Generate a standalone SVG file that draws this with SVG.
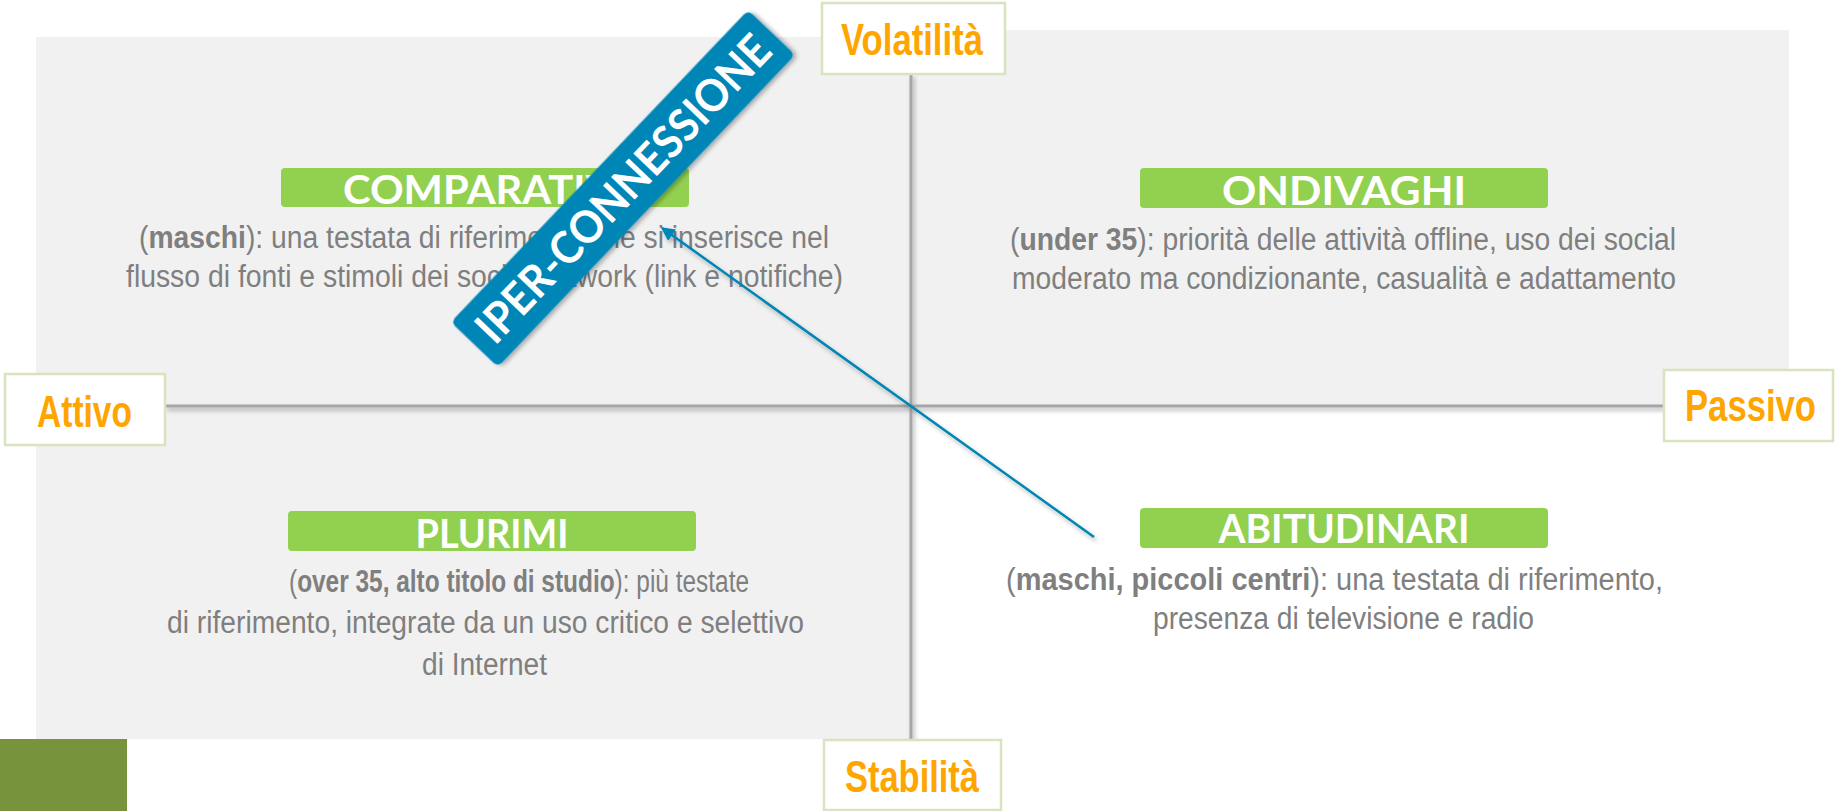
<svg xmlns="http://www.w3.org/2000/svg" width="1835" height="811" viewBox="0 0 1835 811">
<style>
.panel{fill:#f1f1f1}
.axis{stroke:#a6a6a6;stroke-width:3;fill:none}
.title{fill:#92d050}
.ttext{fill:#ffffff;font-family:"Lato","Noto Sans",sans-serif;font-weight:700;font-size:41px;text-anchor:middle}
.body{fill:#7f7f7f;font-family:"Liberation Sans Narrow","Liberation Sans",Arial,sans-serif;font-size:31px}
.body .b{font-weight:700}
.lbox{fill:#ffffff;stroke:#d7e4bd;stroke-width:2.5}
.ltext{fill:#ffa500;font-family:"Liberation Sans Narrow","Liberation Sans",Arial,sans-serif;font-weight:700;font-size:44px}
.banner{fill:#0086b6}
.btext{fill:#ffffff;font-family:"Lato","Noto Sans",sans-serif;font-weight:700;font-size:45px;text-anchor:middle}
</style>
<defs>
<filter id="sh" x="-10%" y="-10%" width="120%" height="130%">
<feDropShadow dx="2" dy="3" stdDeviation="2" flood-color="#000000" flood-opacity="0.3"/>
</filter>
<marker id="ah" viewBox="0 0 10 10" refX="9" refY="5" markerWidth="5.5" markerHeight="5.5" orient="auto-start-reverse" markerUnits="strokeWidth">
<path d="M0,0 L10,5 L0,10 z" fill="#0086b6"/>
</marker>
</defs>

<g id="background">
<rect class="panel" x="36" y="37" width="875" height="702"/>
<rect class="panel" x="911" y="30" width="878" height="376"/>
<rect x="0" y="739" width="127" height="72" fill="#77933c"/>
</g>

<g id="axes" filter="url(#sh)">
<line class="axis" x1="165" y1="406" x2="1664" y2="406"/>
<line class="axis" x1="911" y1="74" x2="911" y2="740"/>
</g>

<g id="comparativi">
<rect class="title" x="281" y="168" width="408" height="39" rx="4"/>
<text class="ttext" x="485" y="204" textLength="284" lengthAdjust="spacingAndGlyphs">COMPARATIVI</text>
<text class="body" x="139" y="248" textLength="690" lengthAdjust="spacingAndGlyphs">(<tspan class="b">maschi</tspan>): una testata di riferimento che si inserisce nel</text>
<text class="body" x="126" y="287" textLength="717" lengthAdjust="spacingAndGlyphs">flusso di fonti e stimoli dei social network (link e notifiche)</text>
</g>

<g id="ondivaghi">
<rect class="title" x="1140" y="168" width="408" height="40" rx="4"/>
<text class="ttext" x="1344" y="205" textLength="244" lengthAdjust="spacingAndGlyphs">ONDIVAGHI</text>
<text class="body" x="1010" y="250" textLength="666" lengthAdjust="spacingAndGlyphs">(<tspan class="b">under 35</tspan>): priorità delle attività offline, uso dei social</text>
<text class="body" x="1012" y="289" textLength="664" lengthAdjust="spacingAndGlyphs">moderato ma condizionante, casualità e adattamento</text>
</g>

<g id="plurimi">
<rect class="title" x="288" y="511" width="408" height="40" rx="4"/>
<text class="ttext" x="492" y="548" textLength="153" lengthAdjust="spacingAndGlyphs">PLURIMI</text>
<text class="body" x="289" y="592" textLength="460" lengthAdjust="spacingAndGlyphs">(<tspan class="b">over 35, alto titolo di studio</tspan>): più testate</text>
<text class="body" x="167" y="633" textLength="637" lengthAdjust="spacingAndGlyphs">di riferimento, integrate da un uso critico e selettivo</text>
<text class="body" x="422" y="675" textLength="125" lengthAdjust="spacingAndGlyphs">di Internet</text>
</g>

<g id="abitudinari">
<rect class="title" x="1140" y="508" width="408" height="40" rx="4"/>
<text class="ttext" x="1344" y="543" textLength="251" lengthAdjust="spacingAndGlyphs">ABITUDINARI</text>
<text class="body" x="1006" y="590" textLength="657" lengthAdjust="spacingAndGlyphs">(<tspan class="b">maschi, piccoli centri</tspan>): una testata di riferimento,</text>
<text class="body" x="1153" y="629" textLength="381" lengthAdjust="spacingAndGlyphs">presenza di televisione e radio</text>
</g>

<g id="iper-connessione" transform="translate(623,188.5) rotate(-46.4)">
<rect class="banner" x="-215.5" y="-32.5" width="431" height="65" rx="6" filter="url(#sh)"/>
<text class="btext" x="0" y="16" textLength="405" lengthAdjust="spacingAndGlyphs">IPER-CONNESSIONE</text>
</g>

<g id="connectors" filter="url(#sh)">
<line x1="1094" y1="537" x2="662" y2="228" stroke="#0086b6" stroke-width="2.5" marker-end="url(#ah)"/>
</g>

<g id="volatilita">
<rect class="lbox" x="822" y="3" width="183" height="71"/>
<text class="ltext" x="841" y="55" textLength="142" lengthAdjust="spacingAndGlyphs">Volatilità</text>
</g>
<g id="stabilita">
<rect class="lbox" x="824" y="740" width="177" height="70"/>
<text class="ltext" x="845" y="792" textLength="134" lengthAdjust="spacingAndGlyphs">Stabilità</text>
</g>
<g id="attivo">
<rect class="lbox" x="5" y="374" width="160" height="71"/>
<text class="ltext" x="37" y="427" textLength="95" lengthAdjust="spacingAndGlyphs">Attivo</text>
</g>
<g id="passivo">
<rect class="lbox" x="1664" y="370" width="169" height="71"/>
<text class="ltext" x="1685" y="421" textLength="131" lengthAdjust="spacingAndGlyphs">Passivo</text>
</g>
</svg>
